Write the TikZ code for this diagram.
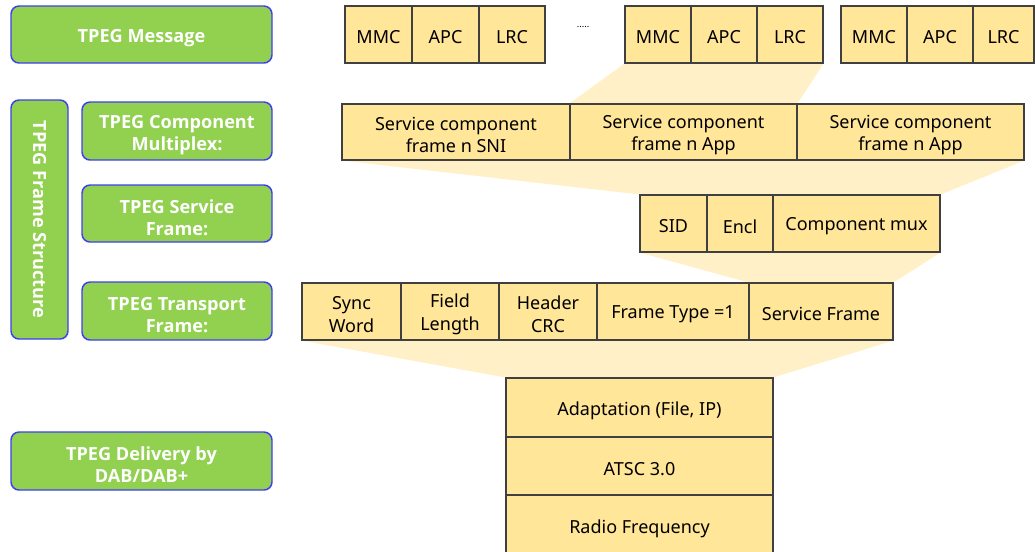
\documentclass[tikz,border=0pt]{standalone}
\usepackage{fontspec}
\setmainfont{Noto Sans}
\newfontfamily\glabelfont{Open Sans}
\usetikzlibrary{backgrounds}
\definecolor{gfill}{HTML}{92D050}
\definecolor{gborder}{HTML}{3F3FF0}
\definecolor{yfill}{HTML}{FFE699}
\definecolor{yborder}{HTML}{404040}
\definecolor{fanfill}{HTML}{FFF0C8}
\newcommand\cellbox[7][]{%
  \node[cell,#1, minimum width={(#4-#2)*0.75pt}, minimum height={(#5-#3)*0.75pt}] (#7) at ({(#2+#4)/2},{(#3+#5)/2}) {};
  \node[celltext] (#7-t) at ([yshift=-2.2pt]#7.center) {#6};}
\newcommand\greenbox[7][]{%
  \node[gbox,#1, minimum width={(#4-#2)*0.75pt}, minimum height={(#5-#3)*0.75pt}] (#7) at ({(#2+#4)/2},{(#3+#5)/2}) {};
  \node[gtext] (#7-t) at ([yshift=-2.8pt]#7.center) {#6};}
\begin{document}
\begin{tikzpicture}[x=0.75pt,y=-0.75pt,
  cell/.style={draw=yborder, fill=yfill, line width=0.8pt, inner sep=0pt},
  celltext/.style={inner sep=0pt, align=center, font=\fontsize{13.5}{17}\selectfont, text=black},
  gbox/.style={draw=gborder, fill=gfill, line width=1.1pt, rounded corners=6pt, inner sep=0pt},
  gtext/.style={inner sep=0pt, align=center, text=white, font=\glabelfont\bfseries\fontsize{13.6}{16.5}\selectfont},
  fan/.style={fill=fanfill, draw=none}]
\useasboundingbox (0,0) rectangle (1035,551);
\clip (0,0) rectangle (1035,551);
% green labels
\greenbox{11}{6}{272}{63}{TPEG Message}{gmsg}
\greenbox{11}{100}{68}{339}{}{gfs}
\node[gtext, rotate=-90] (gfst) at (gfs.center) {TPEG Frame Structure};
\greenbox{82}{102}{272}{160}{TPEG Component\\Multiplex:}{gcm}
\greenbox{82}{185}{272}{242}{TPEG Service\\Frame:}{gsf}
\greenbox{82}{282}{272}{340}{TPEG Transport\\Frame:}{gtf}
\greenbox{11}{432}{272}{490}{TPEG Delivery by\\DAB/DAB+}{gdel}
% message groups
\cellbox{345}{6}{412}{63}{MMC}{m1a}
\cellbox{412}{6}{479}{63}{APC}{m1b}
\cellbox{479}{6}{545}{63}{LRC}{m1c}
\node[font=\fontsize{7}{8}\selectfont, inner sep=0pt] (dots) at (583,27) {.....};
\cellbox{625}{6}{691}{63}{MMC}{m2a}
\cellbox{691}{6}{757}{63}{APC}{m2b}
\cellbox{757}{6}{823}{63}{LRC}{m2c}
\cellbox{841}{6}{907}{63}{MMC}{m3a}
\cellbox{907}{6}{973}{63}{APC}{m3b}
\cellbox{973}{6}{1034}{63}{LRC}{m3c}
% service components
\cellbox{342}{104}{570}{160}{Service component\\frame n SNI}{sc1}
\cellbox{570}{104}{797}{160}{Service component\\frame n App}{sc2}
\cellbox{797}{104}{1024}{160}{Service component\\frame n App}{sc3}
% service frame
\cellbox{640}{195}{707}{252}{SID}{sid}
\cellbox{707}{195}{773}{252}{Encl}{encl}
\cellbox{773}{195}{940}{252}{Component mux}{mux}
% transport frame
\cellbox{302}{283}{401}{340}{Sync\\Word}{sync}
\cellbox{401}{283}{499}{340}{Field\\Length}{flen}
\cellbox{499}{283}{597}{340}{Header\\CRC}{hcrc}
\cellbox{597}{283}{749}{340}{Frame Type =1}{ftype}
\cellbox{749}{283}{893}{340}{Service Frame}{sframe}
% delivery stack
\cellbox{506}{378}{773}{437}{Adaptation (File, IP)}{adapt}
\cellbox{506}{437}{773}{495}{ATSC 3.0}{atsc}
\cellbox{506}{495}{773}{556}{Radio Frequency}{rf}
% fans
\begin{scope}[on background layer]
\fill[fan] (m2a.south west) -- (m2c.south east) -- (sc2.north east) -- (sc2.north west) -- cycle;
\fill[fan] (sc1.south west) -- (sc3.south east) -- (mux.north east) -- (sid.north west) -- cycle;
\fill[fan] (sid.south west) -- (mux.south east) -- (sframe.north east) -- (sframe.north west) -- cycle;
\fill[fan] (sync.south west) -- (sframe.south east) -- (adapt.north east) -- (adapt.north west) -- cycle;
\end{scope}
\end{tikzpicture}
\end{document}
